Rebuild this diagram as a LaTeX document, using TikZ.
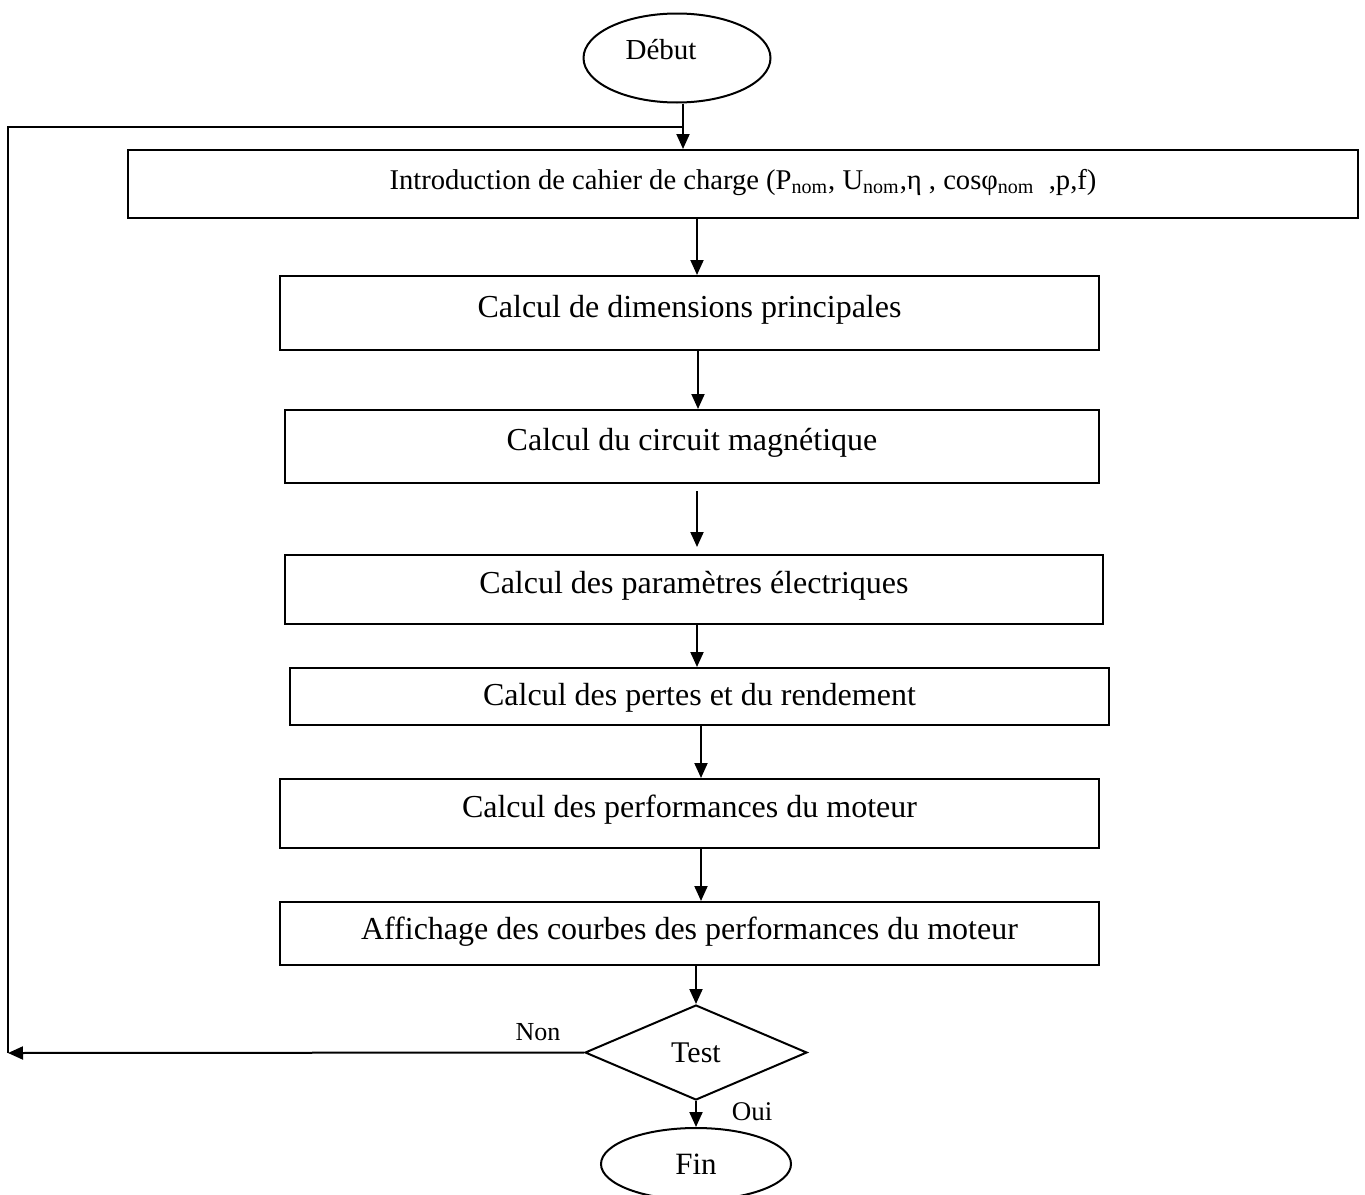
\documentclass[tikz,border=0pt]{standalone}
\usepackage{fontspec}
\setmainfont{Liberation Serif}
\usetikzlibrary{arrows.meta,shapes.geometric}

\tikzset{
  stepbox/.style={draw, line width=1pt, rectangle, inner sep=0pt, text depth=7pt, font=\fontsize{16}{19}\selectfont},
  term/.style={draw, line width=1pt, ellipse, inner sep=0pt},
  decision/.style={draw, line width=1pt, diamond, inner sep=0pt, font=\fontsize{15}{18}\selectfont},
  lbl/.style={inner sep=0pt, font=\fontsize{13}{16}\selectfont},
  arr/.style={line width=1pt, -{Triangle[length=7.5pt,width=6.5pt]}},
  wire/.style={line width=1pt}
}

\begin{document}
\begin{tikzpicture}[x=0.5pt, y=-0.5pt]
  \useasboundingbox (0,0) rectangle (1365,1194);

  % start / end terminals
  \node[term, minimum width=93.5pt, minimum height=44.5pt] (debut) at (677,58) {};
  \node[inner sep=0pt, font=\fontsize{14.5}{17}\selectfont] (debuttxt) at (661,50) {Début};

  % processing steps
  \node[stepbox, minimum width=615pt, minimum height=34pt, text depth=5pt, font=\fontsize{14.3}{17}\selectfont]
    (b1) at (743,184)
    {Introduction de cahier de charge (P\textsubscript{nom}, U\textsubscript{nom},η , cosφ\textsubscript{nom}\ \ ,p,f)};
  \node[stepbox, minimum width=409.5pt, minimum height=37pt] (b2) at (689.5,313) {Calcul de dimensions principales};
  \node[stepbox, minimum width=407pt, minimum height=36.5pt] (b3) at (692,446.5) {Calcul du circuit magnétique};
  \node[stepbox, minimum width=409pt, minimum height=34.5pt] (b4) at (694,589.5) {Calcul des paramètres électriques};
  \node[stepbox, minimum width=409.5pt, minimum height=28.5pt, text depth=2pt] (b5) at (699.5,696.5) {Calcul des pertes et du rendement};
  \node[stepbox, minimum width=409.5pt, minimum height=34.5pt] (b6) at (689.5,813.5) {Calcul des performances du moteur};
  \node[stepbox, minimum width=409.5pt, minimum height=31.5pt, text depth=5pt] (b7) at (689.5,933.5) {Affichage des courbes des performances du moteur};

  % decision and end
  \node[decision, minimum width=111pt, minimum height=47.5pt] (test) at (696,1052.5) {Test};
  \node[term, minimum width=95pt, minimum height=36pt, font=\fontsize{15.5}{18}\selectfont] (fin) at (696,1164) {Fin};

  \node[lbl] (non) at (538,1032) {Non};
  \node[lbl, font=\fontsize{13.5}{16}\selectfont] (oui) at (752,1112) {Oui};

  % connector columns
  \coordinate (c683) at (683,0);
  \coordinate (c697) at (697,0);
  \coordinate (c698) at (698,0);
  \coordinate (c701) at (701,0);

  % loop-back path
  \coordinate (jn) at (683,127);
  \coordinate (lt) at (8,127);
  \coordinate (lb) at (8,1053);

  \draw[arr] ([xshift=3pt]debut.south) -- (b1.north -| c683);
  \draw[arr] (b1.south -| c697) -- (b2.north -| c697);
  \draw[arr] (b2.south -| c698) -- (b3.north -| c698);
  \draw[arr, shorten <=3.5pt] (b3.south -| c697) -- ([yshift=3.5pt]b4.north -| c697);
  \draw[arr] (b4.south -| c697) -- (b5.north -| c697);
  \draw[arr] (b5.south -| c701) -- (b6.north -| c701);
  \draw[arr] (b6.south -| c701) -- (b7.north -| c701);
  \draw[arr] (b7.south -| test.north) -- (test.north);
  \draw[arr] (test.south) -- (fin.north);

  \draw[arr] (test.west) -- (lb);
  \draw[wire] (lb) -- (lt) -- (jn);
\end{tikzpicture}
\end{document}
